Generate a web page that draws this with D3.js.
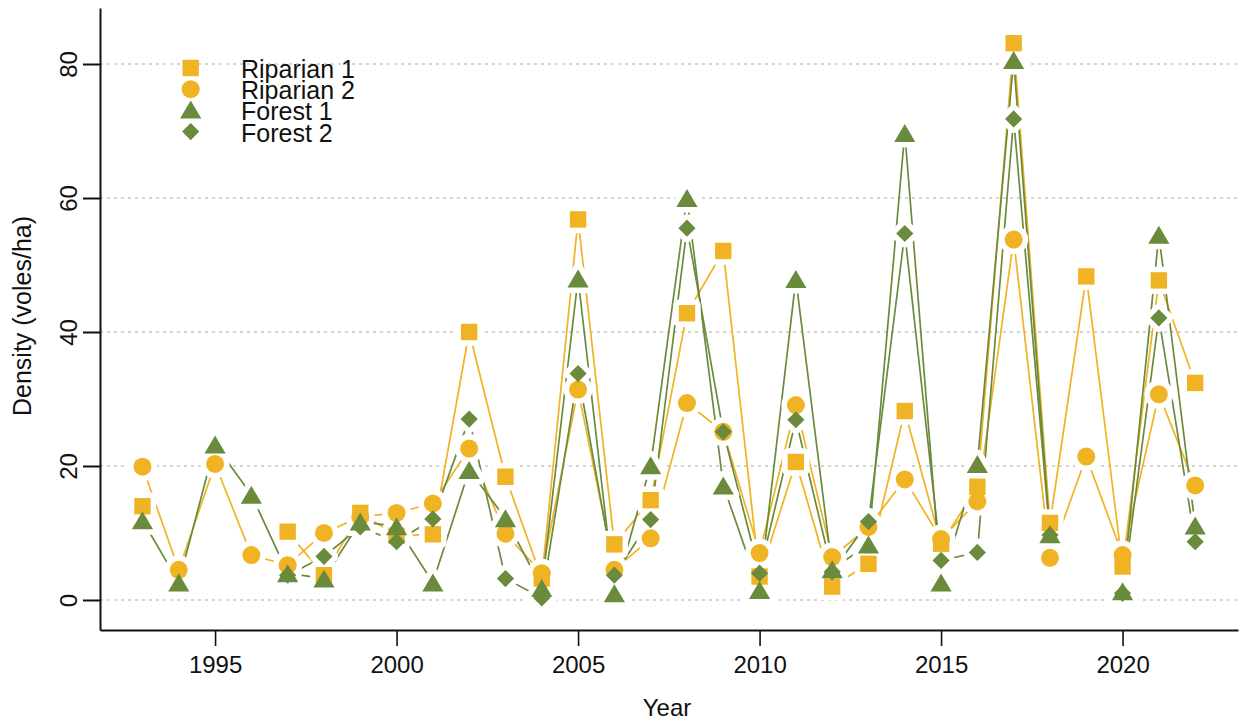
<!DOCTYPE html>
<html>
<head>
<meta charset="utf-8">
<script src="https://cdn.jsdelivr.net/npm/d3@7"></script>
<style>
  html, body { margin: 0; padding: 0; background: #ffffff; }
  svg { display: block; font-family: "Liberation Sans", Arial, sans-serif; }
</style>
</head>
<body>
<svg id="chart" width="1241" height="723"></svg>
<script>
// Vole density by trapping site, 1993-2022 (voles/ha); null = not sampled
const years = [1993, 1994, 1995, 1996, 1997, 1998, 1999, 2000, 2001, 2002,
               2003, 2004, 2005, 2006, 2007, 2008, 2009, 2010, 2011, 2012,
               2013, 2014, 2015, 2016, 2017, 2018, 2019, 2020, 2021, 2022];

const riparian1 = [14.0, null, null, null, 10.2, 3.7, 13.0, 9.6, 9.8, 40.0,
                   18.4, 3.2, 56.8, 8.3, 14.9, 42.8, 52.1, 3.5, 20.6, 2.0,
                   5.4, 28.2, 8.4, 16.9, 83.1, 11.5, 48.3, 5.0, 47.7, 32.4];

const riparian2 = [19.9, 4.5, 20.3, 6.7, 5.2, 10.0, 12.4, 13.0, 14.4, 22.6,
                   9.9, 4.0, 31.4, 4.5, 9.2, 29.4, 25.1, 7.0, 29.1, 6.4,
                   10.9, 18.0, 9.1, 14.7, 53.8, 6.3, 21.4, 6.7, 30.7, 17.1];

const forest1 = [11.9, 2.6, 23.2, 15.7, 4.0, 3.2, 11.7, 11.0, 2.6, 19.4,
                 12.2, 1.8, 48.0, 1.0, 20.1, 60.0, 17.1, 1.5, 47.9, 4.6,
                 8.3, 69.7, 2.6, 20.3, 80.6, 9.8, null, 1.3, 54.5, 11.1];

const forest2 = [null, null, null, null, 3.7, 6.5, 10.9, 8.7, 12.1, 27.0,
                 3.2, 0.3, 33.8, 3.7, 12.0, 55.5, 25.1, 4.0, 26.9, 4.2,
                 11.7, 54.7, 5.9, 7.1, 71.8, 9.7, null, 1.0, 42.1, 8.7];

const seriesNames = ["Riparian 1", "Riparian 2", "Forest 1", "Forest 2"];
const yTicks = [0, 20, 40, 60, 80];
const xTicks = [1995, 2000, 2005, 2010, 2015, 2020];

const ORANGE = "#F0B323";
const GREEN = "#6A8A3C";
const INK = "#111111";

// marker shapes, centred on the origin
const shapes = {
  square:   "M-8.2,-8.2H8.2V8.2H-8.2Z",
  circle:   d3.symbol(d3.symbolCircle, Math.PI * 9 * 9)(),
  triangle: "M0,-9L10.6,9L-10.6,9Z",
  diamond:  "M0,-8.6L8.6,0L0,8.6L-8.6,0Z"
};

const series = [
  { name: seriesNames[0], values: riparian1, color: ORANGE, shape: "square" },
  { name: seriesNames[1], values: riparian2, color: ORANGE, shape: "circle" },
  { name: seriesNames[2], values: forest1,   color: GREEN,  shape: "triangle" },
  { name: seriesNames[3], values: forest2,   color: GREEN,  shape: "diamond" }
].map(s => ({ ...s, points: years.map((yr, i) => ({ year: yr, v: s.values[i] })) }));

const svg = d3.select("#chart");

const x = d3.scaleLinear().domain([1991.83, 2023.18]).range([100, 1238]);
const y = d3.scaleLinear().domain([-4.48, 88.36]).range([630, 8]);

// dotted horizontal grid
svg.append("g")
  .selectAll("line")
  .data(yTicks)
  .join("line")
    .attr("x1", x.range()[0])
    .attr("x2", x.range()[1])
    .attr("y1", d => y(d))
    .attr("y2", d => y(d))
    .attr("stroke", "#c6c6c6")
    .attr("stroke-width", 1.5)
    .attr("stroke-dasharray", "3,4");

// connecting lines
const line = d3.line()
  .defined(d => d.v != null)
  .x(d => x(d.year))
  .y(d => y(d.v));

svg.append("g")
  .selectAll("path")
  .data(series)
  .join("path")
    .attr("d", s => line(s.points))
    .attr("fill", "none")
    .attr("stroke", s => s.color)
    .attr("stroke-width", 1.7);

const markerData = series.flatMap(s =>
  s.points.filter(p => p.v != null).map(p => ({ ...p, shape: s.shape, color: s.color })));

// white clearance around each marker so the lines stop short of it
svg.append("g")
  .selectAll("path")
  .data(markerData)
  .join("path")
    .attr("d", d => shapes[d.shape])
    .attr("transform", d => `translate(${x(d.year)},${y(d.v)})`)
    .attr("fill", "#ffffff")
    .attr("stroke", "#ffffff")
    .attr("stroke-width", 11)
    .attr("stroke-linejoin", "round");

// markers
svg.append("g")
  .selectAll("path")
  .data(markerData)
  .join("path")
    .attr("d", d => shapes[d.shape])
    .attr("transform", d => `translate(${x(d.year)},${y(d.v)})`)
    .attr("fill", d => d.color);

// axes
const yAxis = d3.axisLeft(y).tickValues(yTicks).tickSize(17).tickSizeOuter(0);
const gy = svg.append("g").attr("transform", `translate(${x.range()[0]},0)`).call(yAxis);
gy.select(".domain").attr("stroke", INK).attr("stroke-width", 2);
gy.selectAll(".tick line").attr("stroke", INK).attr("stroke-width", 2);
gy.selectAll(".tick text")
  .attr("x", null).attr("dy", null)
  .attr("text-anchor", "middle")
  .attr("transform", "translate(-23,0) rotate(-90)")
  .attr("fill", INK)
  .style("font-size", "24px")
  .style("font-family", '"Liberation Sans", Arial, sans-serif');

const xAxis = d3.axisBottom(x).tickValues(xTicks).tickFormat(d3.format("d")).tickSize(16).tickSizeOuter(0);
const gx = svg.append("g").attr("transform", `translate(0,${y.range()[0]})`).call(xAxis);
gx.select(".domain").attr("stroke", INK).attr("stroke-width", 2);
gx.selectAll(".tick line").attr("stroke", INK).attr("stroke-width", 1.6);
gx.selectAll(".tick text")
  .attr("y", 43).attr("dy", null)
  .attr("fill", INK)
  .style("font-size", "24px")
  .style("font-family", '"Liberation Sans", Arial, sans-serif');

// axis titles
svg.append("text")
  .attr("x", 667).attr("y", 716)
  .attr("text-anchor", "middle")
  .attr("fill", INK)
  .style("font-size", "24px")
  .text("Year");

svg.append("text")
  .attr("transform", "translate(31,316) rotate(-90)")
  .attr("text-anchor", "middle")
  .attr("fill", INK)
  .style("font-size", "25px")
  .text("Density (voles/ha)");

// legend
const legend = svg.append("g")
  .selectAll("g")
  .data(series)
  .join("g")
    .attr("transform", (s, i) => `translate(0,${78 + i * 21.2})`);

legend.append("path")
  .attr("d", s => shapes[s.shape])
  .attr("transform", s => `translate(190.7,${s.shape === "triangle" ? -11 : -10})`)
  .attr("fill", s => s.color);

legend.append("text")
  .attr("x", 241).attr("y", 0)
  .attr("fill", INK)
  .style("font-size", "25px")
  .text(s => s.name);
</script>
</body>
</html>
